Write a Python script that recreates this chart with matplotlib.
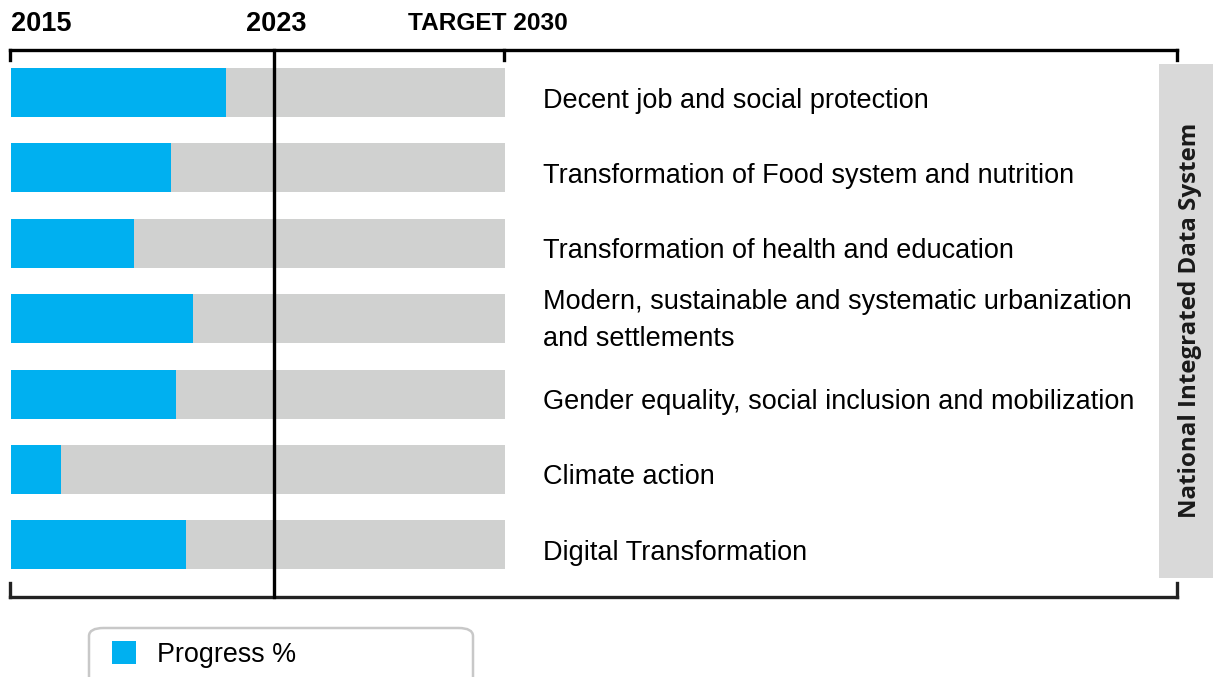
import matplotlib
matplotlib.use("Agg")
import matplotlib.pyplot as plt
from matplotlib.patches import Rectangle, FancyBboxPatch

categories = [
    "Decent job and social protection",
    "Transformation of Food system and nutrition",
    "Transformation of health and education",
    "Modern, sustainable and systematic urbanization\nand settlements",
    "Gender equality, social inclusion and mobilization",
    "Climate action",
    "Digital Transformation",
]
progress = [43.5, 32.3, 24.8, 36.8, 33.4, 10.1, 35.4]
full = [100] * len(categories)
years = [2015, 2023, 2030]
year_labels = ["2015", "2023", "TARGET 2030"]
side_label = "National Integrated Data System"
legend_label = "Progress %"

BLUE = "#00B0F0"
GREY = "#D0D1D0"

W, H = 1213, 677
fig = plt.figure(figsize=(W / 100, H / 100), dpi=100)
plt.rcParams['font.family'] = ['Liberation Sans', 'DejaVu Sans']

# axes in pixel geometry
ax_l, ax_r, ax_t, ax_b = 10, 1177, 50, 597
ax = fig.add_axes([ax_l / W, 1 - ax_b / H, (ax_r - ax_l) / W, (ax_b - ax_t) / H])
px_per_unit = 4.94
x0px = 11
ax.set_xlim((ax_l - x0px) / px_per_unit, (ax_r - x0px) / px_per_unit)
row0, rowstep = 92.5, 75.4
ax.set_ylim((ax_b - row0) / rowstep, (ax_t - row0) / rowstep)
ax.axis("off")

ypos = list(range(len(categories)))
ax.barh(ypos, full, height=0.65, color=GREY, zorder=1)
ax.barh(ypos, progress, height=0.65, color=BLUE, zorder=2)

def ypct(y):
    return (y - years[0]) / (years[-1] - years[0]) * 100

xmin, xmax = ax.get_xlim()
ymax_top, ymin_bot = ax.get_ylim()[1], ax.get_ylim()[0]
lw = 2.4
# 2023 line
ax.plot([ypct(years[1])] * 2, [ymax_top, ymin_bot], color="black", lw=lw, zorder=3, clip_on=False)
# top bracket
tick = 10 / rowstep
ax.plot([xmin, xmax], [ymax_top, ymax_top], color="black", lw=lw, clip_on=False, solid_capstyle="projecting")
for xv in [xmin, ypct(years[2]) - 0.2, xmax]:
    ax.plot([xv, xv], [ymax_top, ymax_top + tick], color="black", lw=lw, clip_on=False)
# bottom bracket
ax.plot([xmin, xmax], [ymin_bot, ymin_bot], color="#222222", lw=lw, clip_on=False, solid_capstyle="projecting")
for xv in [xmin, xmax]:
    ax.plot([xv, xv], [ymin_bot, ymin_bot - 14 / rowstep], color="#222222", lw=lw, clip_on=False)

# year labels
ytxt = ymax_top - 26 / rowstep
ax.text(ypct(years[0]) + 0.1, ytxt, year_labels[0], ha="left", va="center", fontsize=19.5, fontweight="bold")
ax.text(ypct(years[1]) + 0.4, ytxt, year_labels[1], ha="center", va="center", fontsize=19.5, fontweight="bold")
ax.text(ypct(years[2]) + 12.7, ytxt, year_labels[2], ha="right", va="center", fontsize=17.6, fontweight="bold")

# category labels
for i, c in enumerate(categories):
    off = 8 if "\n" not in c else 2
    ax.text((543 - x0px) / px_per_unit, i + off / rowstep, c, ha="left", va="center", fontsize=19.5,
            linespacing=1.55)

# side box
fig.patches.append(Rectangle((1159 / W, 1 - 578 / H), (W - 1159) / W, (578 - 64) / H,
                             transform=fig.transFigure, facecolor="#D9D9D9", edgecolor="none"))
fig.text(1190 / W, 1 - 320 / H, side_label, rotation=90, ha="center", va="center",
         fontsize=17.4, fontweight="bold", family=["Open Sans", "DejaVu Sans"], color="#1a1a1a")

# legend
fig.patches.append(FancyBboxPatch((89 / W, 1 - 700 / H), (473 - 89) / W, (700 - 628) / H,
                                  boxstyle="round,pad=0,rounding_size=0.012",
                                  transform=fig.transFigure, facecolor="white",
                                  edgecolor="#C8C8C8", lw=1.8))
fig.patches.append(Rectangle((112 / W, 1 - 664 / H), 24 / W, 23 / H, transform=fig.transFigure,
                             facecolor=BLUE, edgecolor="none", zorder=5))
fig.text(157 / W, 1 - 655 / H, legend_label, ha="left", va="center", fontsize=19.4)

fig.savefig("out.png", dpi=100)
